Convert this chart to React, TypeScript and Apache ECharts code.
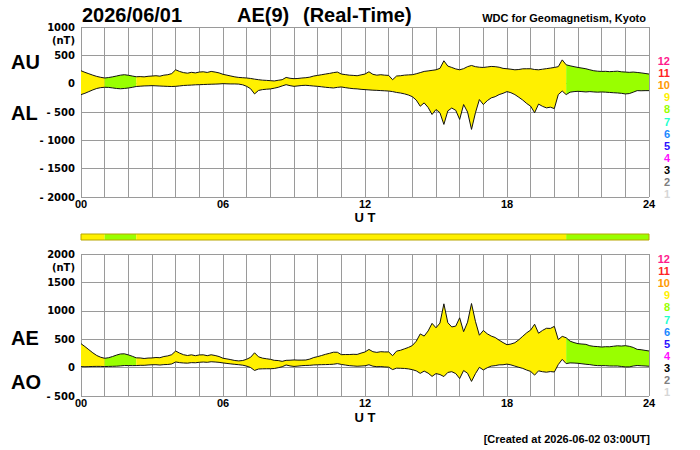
import React, { useEffect, useRef } from "react";
import * as echarts from "echarts";

// 10-minute samples, 00:00 .. 24:00 (hours)
const TIME_H: number[] = Array.from({ length: 145 }, (_, i) => i / 6);

// AU index (nT), one value per 10 min
const AU: number[] = [
  228, 200, 175, 150, 128, 112,
  100, 108, 120, 135, 150, 158,
  148, 135, 122, 125, 120, 130,
  135, 140, 132, 150, 158, 178,
  245, 215, 195, 185, 200, 190,
  205, 210, 198, 216, 205, 190,
  165, 150, 135, 120, 110, 105,
  100, 92, 80, 70, 62, 58,
  53, 48, 60, 70, 110, 95,
  88, 92, 100, 105, 115, 135,
  146, 158, 170, 181, 195, 205,
  170, 160, 150, 146, 140, 155,
  170, 210, 165, 150, 158, 150,
  146, 70, 135, 140, 150, 155,
  158, 175, 195, 216, 225, 235,
  245, 270, 404, 310, 286, 260,
  245, 265, 300, 321, 300, 290,
  286, 295, 304, 300, 290, 270,
  263, 255, 245, 250, 262, 263,
  263, 250, 245, 255, 265, 275,
  286, 300, 420, 333, 315, 300,
  286, 275, 263, 245, 228, 220,
  216, 218, 212, 216, 220, 210,
  205, 200, 205, 198, 190, 180,
  170,
];

// AL index (nT), one value per 10 min
const AL: number[] = [
  -193, -170, -140, -110, -85, -70,
  -64, -66, -75, -85, -90, -85,
  -76, -65, -50, -45, -40, -38,
  -35, -38, -42, -45, -48, -50,
  -47, -40, -32, -28, -25, -20,
  -18, -15, -12, -10, -8, -5,
  0, -3, -5, -5, -8, -20,
  -47, -90, -181, -120, -105, -98,
  -93, -80, -64, -40, -18, -35,
  -47, -40, -32, -29, -35, -42,
  -47, -55, -64, -70, -76, -65,
  -58, -70, -80, -88, -92, -100,
  -105, -110, -115, -118, -122, -126,
  -130, -140, -155, -165, -180, -200,
  -230, -290, -398, -339, -420, -544,
  -456, -514, -719, -480, -430, -470,
  -631, -368, -500, -807, -514, -280,
  -368, -300, -251, -230, -193, -170,
  -140, -160, -193, -240, -290, -350,
  -398, -514, -360, -400, -427, -415,
  -440, -193, -130, -193, -150, -140,
  -135, -140, -146, -140, -146, -150,
  -146, -150, -155, -160, -164, -170,
  -181, -175, -150, -123, -125, -123,
  -123,
];

// AE = AU - AL, AO = (AU + AL) / 2
const AE: number[] = AU.map((u, i) => u - AL[i]);
const AO: number[] = AU.map((u, i) => (u + AL[i]) / 2);

// Station-count segments: [from hour, to hour, number of stations]
const SEGMENTS: number[][] = [
  [0, 1, 9],
  [1, 2.3333, 8],
  [2.3333, 20.5, 9],
  [20.5, 24, 8],
];

const X_LABELS: string[] = ["00", "06", "12", "18", "24"];
const LEVELS: number[] = [12, 11, 10, 9, 8, 7, 6, 5, 4, 3, 2, 1];
const LEVEL_COLORS: Record<number, string> = {
  12: "#ff1a8c",
  11: "#ff2222",
  10: "#ff9900",
  9: "#fff000",
  8: "#99ff00",
  7: "#22ffcc",
  6: "#1a88ff",
  5: "#2a10ff",
  4: "#ff10ff",
  3: "#000000",
  2: "#808080",
  1: "#d6d6d6",
};

const HELV = '"Liberation Sans", Arial, sans-serif';
const DEJA = '"DejaVu Sans", sans-serif';
const GRID_COLOR = "#9a9a9a";

function App() {
  const ref = useRef<HTMLDivElement>(null);

  useEffect(() => {
    if (!ref.current) return;
    const chart = echarts.init(ref.current, null, { renderer: "svg" });

    const fillRenderer = (upper: number[], lower: number[]) =>
      (params: any, api: any) => {
        const a = Math.round(api.value(0) * 6);
        const b = Math.round(api.value(1) * 6);
        const lvl = api.value(2);
        const pts: number[][] = [];
        for (let i = a; i <= b; i++) pts.push(api.coord([TIME_H[i], upper[i]]));
        for (let i = b; i >= a; i--) pts.push(api.coord([TIME_H[i], lower[i]]));
        return {
          type: "polygon",
          shape: { points: pts },
          style: { fill: LEVEL_COLORS[lvl], stroke: null },
        };
      };

    const stripRenderer = (params: any, api: any) => {
      const p0 = api.coord([api.value(0), 1]);
      const p1 = api.coord([api.value(1), 0]);
      return {
        type: "rect",
        shape: { x: p0[0], y: p0[1], width: p1[0] - p0[0], height: p1[1] - p0[1] },
        style: { fill: LEVEL_COLORS[api.value(2)] },
      };
    };

    const xAxisCommon = {
      type: "value",
      min: 0,
      max: 24,
      interval: 1,
      axisLine: { show: false },
      axisTick: { show: false },
      splitLine: { show: true, lineStyle: { color: GRID_COLOR, width: 1 } },
      axisLabel: {
        show: true,
        margin: 1,
        showMinLabel: true,
        showMaxLabel: true,
        fontFamily: HELV,
        fontWeight: "bold",
        fontSize: 11,
        lineHeight: 11,
        color: "#000",
        formatter: (v: number) => (v % 6 === 0 ? X_LABELS[v / 6] : ""),
      },
    };

    const yAxisCommon = {
      type: "value",
      interval: 500,
      axisLine: { show: false },
      axisTick: { show: false },
      splitLine: { show: true, lineStyle: { color: GRID_COLOR, width: 1 } },
      axisLabel: {
        margin: 6,
        fontFamily: DEJA,
        fontWeight: "bold",
        fontSize: 10,
        color: "#000",
        showMinLabel: true,
        showMaxLabel: true,
        formatter: (v: number) => (v < 0 ? "- " + -v : String(v)),
      },
    };

    const lineSeries = (name: string, vals: number[], idx: number) => ({
      type: "line",
      name,
      xAxisIndex: idx,
      yAxisIndex: idx,
      data: TIME_H.map((t, i) => [t, vals[i]]),
      symbol: "none",
      lineStyle: { color: "#111", width: 1 },
      z: 4,
      silent: true,
    });

    const bold = (size: number, fam = HELV) => `bold ${size}px ${fam}`;
    const txt = (text: string, x: number, y: number, font: string, align = "left", fill = "#000") => ({
      type: "text",
      x,
      y,
      style: { text, font, fill, align, verticalAlign: "middle" },
      z: 10,
    });

    const legendTexts: any[] = [];
    LEVELS.forEach((lv, i) => {
      legendTexts.push(txt(String(lv), 670, 61 + i * 12.1, bold(11), "right", LEVEL_COLORS[lv]));
      legendTexts.push(txt(String(lv), 670, 259 + i * 12.1, bold(11), "right", LEVEL_COLORS[lv]));
    });

    chart.setOption({
      animation: false,
      backgroundColor: "#ffffff",
      grid: [
        { left: 81, top: 27, width: 568, height: 170, show: false },
        { left: 81, top: 254, width: 568, height: 142, show: false },
        {
          left: 81, top: 234, width: 568, height: 6, show: true,
          borderColor: "#b8a600", borderWidth: 1, backgroundColor: "transparent", z: 6,
        },
      ],
      xAxis: [
        { ...xAxisCommon, gridIndex: 0 },
        { ...xAxisCommon, gridIndex: 1 },
        { type: "value", gridIndex: 2, min: 0, max: 24, show: false },
      ],
      yAxis: [
        { ...yAxisCommon, gridIndex: 0, min: -2000, max: 1000 },
        { ...yAxisCommon, gridIndex: 1, min: -500, max: 2000 },
        { type: "value", gridIndex: 2, min: 0, max: 1, show: false },
      ],
      series: [
        {
          type: "custom",
          xAxisIndex: 0,
          yAxisIndex: 0,
          data: SEGMENTS,
          encode: { x: [0, 1], y: 2 },
          renderItem: fillRenderer(AU, AL),
          z: 2,
          silent: true,
        },
        {
          type: "custom",
          xAxisIndex: 1,
          yAxisIndex: 1,
          data: SEGMENTS,
          encode: { x: [0, 1], y: 2 },
          renderItem: fillRenderer(AE, AO),
          z: 2,
          silent: true,
        },
        {
          type: "custom",
          xAxisIndex: 2,
          yAxisIndex: 2,
          data: SEGMENTS,
          encode: { x: [0, 1] },
          renderItem: stripRenderer,
          z: 2,
          silent: true,
        },
        lineSeries("AU", AU, 0),
        lineSeries("AL", AL, 0),
        lineSeries("AE", AE, 1),
        lineSeries("AO", AO, 1),
      ],
      graphic: [
        txt("2026/06/01", 82, 15, bold(20)),
        txt("AE(9)", 237, 15, bold(20)),
        txt("(Real-Time)", 303, 15, bold(20)),
        txt("WDC for Geomagnetism, Kyoto", 646, 18, bold(11), "right"),
        txt("AU", 11, 62, bold(20)),
        txt("AL", 11, 113, bold(20)),
        txt("AE", 11, 338, bold(20)),
        txt("AO", 11, 382, bold(20)),
        txt("(nT)", 75, 40, bold(10, DEJA), "right"),
        txt("(nT)", 75, 267, bold(10, DEJA), "right"),
        txt("U T", 365, 217, bold(13), "center"),
        txt("U T", 365, 417, bold(13), "center"),
        txt("[Created at 2026-06-02 03:00UT]", 650, 439, bold(11), "right"),
        ...legendTexts,
      ],
    });

    return () => chart.dispose();
  }, []);

  return (
    <div
      ref={ref}
      style={{ position: "fixed", left: 0, top: 0, width: 700, height: 450, background: "#fff" }}
    />
  );
}

export default App;
